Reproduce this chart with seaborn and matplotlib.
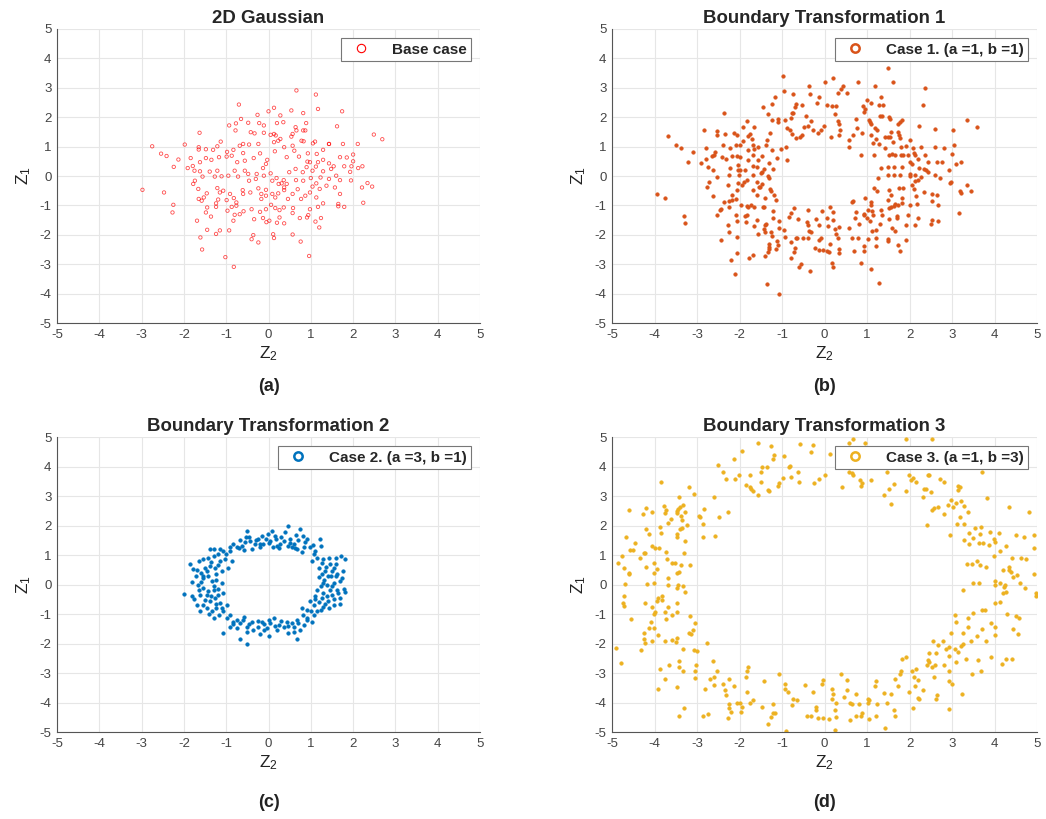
import pandas as pd
import seaborn as sns
import matplotlib.pyplot as plt
from matplotlib.lines import Line2D

# 1. DATA ((Z2, Z1) pairs)
base_pts = [
    (0.66, 2.91), (1.12, 2.77), (-0.70, 2.43), (0.13, 2.32), (0.0, 2.2), (0.54, 2.23), (0.82, 2.14),
    (1.17, 2.28), (1.74, 2.2), (-0.26, 2.08), (0.28, 2.06), (-0.65, 1.94), (1.62, 1.69), (2.49, 1.41),
    (2.69, 1.25), (-1.63, 1.47), (-2.75, 1.01), (-1.98, 1.07), (-2.54, 0.76), (-2.41, 0.68), (-2.13, 0.56),
    (-2.24, 0.31), (-2.98, -0.47), (-2.47, -0.56), (-2.25, -0.98), (-2.27, -1.24), (2.34, -0.24),
    (2.21, -0.39), (2.45, -0.36), (2.24, -0.91), (2.22, 0.33), (2.12, 0.27), (2.11, 1.09), (1.76, 1.09),
    (1.43, 1.09), (-1.69, -1.52), (-1.45, -1.83), (-1.61, -2.09), (-1.57, -2.5), (-1.02, -2.76),
    (-0.82, -3.09), (-1.15, -1.85), (-1.24, -1.97), (-0.93, -1.85), (-0.36, -2.01), (-0.4, -2.15),
    (-0.24, -2.26), (0.11, -1.98), (0.13, -2.11), (0.57, -1.99), (0.76, -2.23), (0.96, -2.72),
    (1.2, -1.75), (1.11, -1.55), (1.24, -1.43), (1.65, -1.03), (1.79, -1.05), (1.65, -0.95),
    (1.95, -0.15), (1.96, 0.33), (1.79, 0.33), (1.93, 0.14), (1.69, 0.64), (1.85, 0.63), (2.0, 0.5),
    (2.0, 0.73),
    (-0.93, 1.72), (-0.77, 1.79), (-0.78, 1.55), (-0.48, 1.81), (-0.22, 1.8), (-0.11, 1.72),
    (-0.42, 1.49), (-0.33, 1.45), (-0.11, 1.47), (0.05, 1.4), (0.13, 1.43), (0.17, 1.38), (0.2, 1.8),
    (0.35, 1.83), (0.64, 1.66), (0.66, 1.55), (0.82, 1.55), (0.87, 1.55), (0.89, 1.8), (0.57, 1.43),
    (0.54, 1.34), (0.78, 1.2), (0.83, 1.18), (1.05, 1.11), (1.1, 1.17), (1.29, 0.89), (1.43, 1.09),
    (-1.13, 1.17), (-1.21, 1.01), (-1.48, 0.91), (-1.65, 0.98), (-1.65, 0.9), (-1.31, 0.89),
    (-1.84, 0.61), (-1.62, 0.47), (-1.48, 0.61), (-1.35, 0.55), (-1.17, 0.64), (-0.99, 0.66),
    (-0.87, 0.69), (-0.98, 0.82), (-0.83, 0.89), (-0.68, 1.03), (-0.6, 1.09), (-0.46, 1.07),
    (-0.24, 1.09), (-0.2, 0.77), (-0.6, 0.78), (-0.74, 0.47), (-0.56, 0.52), (-0.35, 0.61),
    (-0.03, 0.55), (-0.06, 0.41), (0.15, 0.84), (0.13, 1.15), (0.23, 1.2), (0.28, 1.26), (0.37, 0.98),
    (0.43, 0.64), (0.57, 1.03), (0.61, 0.86), (0.72, 0.66), (0.93, 0.77), (0.98, 0.47), (1.17, 0.47),
    (1.14, 0.75), (1.29, 0.55), (1.43, 0.43), (1.54, 0.33), (1.48, 0.24), (0.92, 0.49),
    (-1.91, 0.27), (-1.79, 0.34), (-1.62, 0.16), (-1.75, 0.18), (-1.56, -0.02), (-1.39, 0.15),
    (-1.21, 0.18), (-1.27, -0.02), (-1.11, -0.01), (-0.95, 0.01), (-0.8, 0.18), (-0.72, -0.02),
    (-0.56, 0.18), (-0.48, 0.07), (-0.46, -0.16), (-0.28, 0.07), (-0.3, -0.1), (-0.13, 0.27),
    (-0.11, 0.01), (0.05, 0.09), (0.09, -0.16), (0.19, -0.07), (0.24, -0.27), (0.36, -0.14),
    (0.31, -0.25), (0.43, -0.27), (0.49, 0.13), (0.64, 0.24), (0.65, -0.14), (0.82, -0.16),
    (0.81, 0.13), (1.0, -0.07), (1.04, 0.18), (1.23, -0.05), (1.29, 0.16), (1.13, -0.25),
    (1.43, -0.1), (1.6, 0.01), (1.69, -0.14), (1.12, 0.32), (0.9, 0.3),
    (-1.78, -0.27), (-1.74, -0.16), (-1.66, -0.44), (-1.46, -0.59), (-1.53, -0.73), (-1.58, -0.84),
    (-1.65, -0.78), (-1.21, -0.41), (-1.15, -0.56), (-1.07, -0.5), (-0.91, -0.61), (-1.19, -0.8),
    (-0.99, -0.82), (-0.82, -0.75), (-0.76, -0.9), (-0.61, -0.48), (-0.6, -0.61), (-0.43, -0.56),
    (-0.24, -0.42), (-0.17, -0.61), (-0.17, -0.78), (-0.06, -0.67), (0.09, -0.61), (0.16, -0.73),
    (0.23, -0.59), (0.37, -0.48), (0.37, -0.39), (0.46, -0.78), (0.57, -0.61), (0.69, -0.45),
    (0.77, -0.78), (0.87, -0.67), (0.98, -0.56), (1.04, -0.36), (1.21, -0.44), (1.37, -0.33),
    (1.57, -0.39), (1.69, -0.61), (1.13, -0.73), (-0.06, -0.47),
    (-1.45, -1.07), (-1.48, -1.24), (-1.36, -1.38), (-1.24, -1.05), (-1.24, -0.93), (-0.97, -1.18),
    (-0.87, -1.05), (-0.76, -1.01), (-0.8, -1.32), (-0.68, -1.3), (-0.83, -1.52), (-0.59, -1.2),
    (-0.4, -1.13), (-0.34, -1.47), (-0.2, -1.22), (-0.13, -1.43), (-0.06, -1.13), (0.02, -1.52),
    (0.06, -0.98), (0.16, -1.09), (0.26, -1.16), (0.36, -1.07), (0.26, -1.41), (0.37, -1.61),
    (0.57, -1.26), (0.58, -1.09), (0.74, -1.43), (0.94, -1.33), (0.98, -1.13), (1.17, -1.05),
    (1.29, -0.93), (0.91, -1.41), (-0.05, -1.57), (0.2, -1.59),
]

case1_pts = [
    (-0.98, 3.39), (-0.95, 2.9), (-0.37, 3.07), (0.0, 3.21), (0.19, 3.32), (0.43, 3.05), (0.38, 2.96),
    (0.31, 2.82), (0.54, 2.82), (-0.74, 2.78), (-0.34, 2.78), (-0.14, 2.7), (-0.17, 2.48), (-1.16, 2.67),
    (-1.23, 2.45), (-1.45, 2.34), (-1.32, 2.11), (-0.68, 2.45), (-0.69, 2.34), (-0.54, 2.42),
    (-0.77, 2.13), (-0.73, 2.13), (-0.8, 1.98), (-0.43, 2.05), (-0.31, 1.86), (0.05, 2.42), (0.17, 2.37),
    (0.28, 2.37), (0.24, 2.11), (0.31, 1.88), (0.33, 1.77), (0.36, 1.58), (0.33, 1.38), (0.16, 1.32),
    (-0.01, 1.71), (-0.08, 1.58), (-0.16, 1.45), (-0.28, 1.55), (-0.38, 1.69), (-0.48, 1.68),
    (-0.54, 1.38), (-0.58, 1.32), (-0.66, 1.29), (-0.76, 1.43), (-0.82, 1.55), (-0.89, 1.62),
    (-0.92, 1.91), (-1.09, 1.94), (-1.09, 1.85), (-1.24, 1.92), (-1.28, 1.47), (-1.35, 1.21),
    (-1.37, 1.06), (-0.91, 0.98), (-1.02, 0.92), (-0.89, 0.55), (-1.12, 0.62), (-1.23, 0.87),
    (-2.37, 2.13),
    (-3.68, 1.35), (-3.49, 1.04), (-3.37, 0.96), (-3.1, 0.81), (-3.21, 0.47), (-2.84, 1.55),
    (-2.52, 1.52), (-2.52, 1.41), (-2.35, 1.43), (-2.13, 1.47), (-2.06, 1.4), (-1.91, 1.66),
    (-1.82, 1.88), (-1.66, 1.66), (-1.8, 1.35), (-1.76, 1.43), (-1.7, 1.26), (-1.92, 1.18),
    (-1.98, 1.04), (-2.09, 1.04), (-2.22, 0.96), (-2.39, 1.06), (-2.78, 0.96), (-2.57, 0.81),
    (-2.65, 0.67), (-2.6, 0.7), (-2.8, 0.58), (-2.9, 0.44), (-2.74, 0.32), (-2.62, 0.22),
    (-2.54, -0.04), (-2.72, -0.21), (-2.76, -0.38), (-2.62, -0.69), (-2.42, 0.64), (-2.31, 0.58),
    (-2.17, 0.67), (-2.07, 0.67), (-1.99, 0.66), (-2.04, 0.36), (-2.23, 0.27), (-2.24, 0.02),
    (-2.27, -0.32), (-2.03, 0.19), (-1.98, 0.22), (-2.02, 0.04), (-2.03, -0.23), (-1.95, -0.32),
    (-1.89, -0.21), (-2.07, -0.49), (-2.17, -0.66), (-2.17, -0.8), (-2.24, -0.85), (-2.37, -0.89),
    (-2.43, -1.11), (-2.45, -1.17), (-2.54, -1.31), (-2.25, -1.07), (-2.09, -0.77), (-1.83, -0.15),
    (-1.69, 0.05), (-1.6, -0.21), (-1.68, -0.49), (-1.58, -0.64), (-1.54, -0.38), (-1.51, -0.38),
    (-1.46, -0.26), (-1.46, 0.15), (-1.5, 0.1), (-1.42, 0.24), (-1.32, 0.0), (-1.3, -0.07),
    (-1.22, 0.24), (-1.68, 0.33), (-1.6, 0.32), (-1.68, 0.7), (-1.65, 0.92), (-1.68, 1.04),
    (-1.56, 0.98), (-1.48, 0.67), (-1.57, 0.53), (-1.81, 0.53), (-1.87, 0.19), (-1.28, -0.44),
    (-1.26, -0.52), (-1.2, -0.66), (-1.15, -0.82), (-1.4, -0.75), (-1.45, -1.06), (-1.42, -1.06),
    (-1.74, -0.97), (-1.82, -1.02), (-1.8, -1.06), (-1.66, -1.06), (-1.97, -1.0), (-2.08, -1.32),
    (-2.06, -1.52), (-2.26, -1.68), (-2.24, -1.9), (-1.86, -1.37), (-1.85, -1.57), (-1.83, -1.32),
    (-1.66, -1.71), (-1.58, -1.51), (-1.56, -1.98), (-2.06, -2.07), (-2.43, -2.19), (-2.06, -2.61),
    (-2.21, -2.87), (-1.77, -2.79), (-1.68, -2.67), (-2.11, -3.33), (-1.4, -1.68), (-1.38, -1.62),
    (-1.42, -1.79), (-1.4, -1.9), (-1.26, -1.9), (-1.24, -2.04), (-1.21, -1.19), (-1.21, -1.43),
    (-1.08, -1.54), (-1.06, -1.76), (-0.96, -1.85), (-0.93, -2.07), (-1.11, -2.21), (-1.1, -2.36),
    (-1.3, -2.31), (-1.3, -2.41), (-1.31, -2.49), (-1.32, -2.58), (-1.39, -2.72), (-1.14, -2.49),
    (-1.35, -3.69), (-1.08, -4.03), (-0.8, -2.79), (-0.72, -2.58), (-0.69, -2.45), (-0.8, -2.24),
    (-0.68, -2.11), (-0.64, -2.11), (-0.63, -1.45), (-0.83, -1.4), (-0.78, -1.25), (-0.71, -1.09),
    (-0.4, -1.17), (-0.42, -1.57), (-0.4, -1.68), (-0.36, -1.87), (-0.32, -1.9), (-0.39, -2.1),
    (-0.5, -2.11), (-0.22, -2.44), (-0.12, -2.17), (-0.09, -2.11), (-0.12, -2.53), (-0.04, -2.53),
    (0.06, -2.55), (0.11, -2.58), (-0.2, -1.45), (-0.14, -1.66), (-0.05, -1.2), (0.07, -1.42),
    (0.09, -1.71), (0.21, -1.51), (0.24, -1.79), (0.33, -1.74), (0.27, -1.98), (0.31, -2.11),
    (0.13, -1.06), (0.2, -1.23), (0.13, -2.3), (0.17, -2.95), (0.21, -3.09), (-0.34, -3.24),
    (-0.55, -2.98), (-0.59, -3.1), (0.33, -2.47), (0.35, -2.61),
    (1.5, 3.69), (1.62, 3.19), (0.78, 3.21), (1.18, 3.05), (2.37, 2.98), (2.31, 2.42), (1.34, 2.68),
    (0.99, 2.59), (1.1, 2.47), (0.9, 2.39), (0.96, 2.28), (0.94, 2.17), (1.28, 2.43), (1.38, 2.42),
    (1.31, 2.05), (1.35, 2.03), (1.51, 2.0), (1.55, 1.94), (1.83, 1.91), (1.78, 1.85), (1.73, 1.77),
    (2.22, 1.71), (2.61, 1.6), (3.36, 1.92), (3.58, 1.67), (3.02, 1.55), (0.74, 1.94), (1.04, 1.92),
    (1.06, 1.83), (1.1, 1.77), (1.18, 1.62), (1.24, 1.55), (0.76, 1.62), (0.88, 1.47), (0.66, 1.41),
    (1.09, 1.38), (1.22, 1.26), (1.14, 1.13), (1.28, 1.09), (1.43, 1.33), (1.5, 1.32), (1.55, 1.32),
    (1.72, 1.49), (1.75, 1.38), (1.77, 1.3), (1.56, 1.51), (1.61, 1.17), (1.91, 1.01), (2.0, 1.21),
    (1.81, 0.98), (2.09, 0.96), (2.26, 0.98), (2.61, 1.0), (2.81, 0.96), (3.04, 1.04), (1.43, 0.95),
    (1.51, 0.7), (1.59, 0.75), (1.67, 0.72), (1.79, 0.72), (1.84, 0.72), (1.96, 0.7), (2.11, 0.79),
    (2.13, 0.7), (2.36, 0.73), (2.0, 0.49), (2.06, 0.41), (2.2, 0.58), (2.44, 0.47), (2.65, 0.49),
    (2.77, 0.49), (2.99, 0.74), (3.1, 0.4), (3.22, 0.49), (0.58, 1.22), (0.57, 0.99), (0.87, 0.73),
    (1.17, 0.7), (1.34, 0.28), (1.5, 0.3), (1.63, 0.32), (1.83, 0.29), (1.5, 0.02), (1.63, 0.04),
    (1.77, 0.02), (2.0, 0.07), (2.0, 0.0), (2.14, 0.02), (2.22, 0.27), (2.34, 0.24), (2.39, 0.21),
    (2.44, 0.15), (2.26, -0.02), (2.2, -0.13), (2.13, -0.17), (2.05, -0.32), (2.59, 0.04),
    (2.71, -0.07), (2.93, 0.19), (2.97, -0.19), (2.95, -0.23), (3.18, -0.52), (3.2, -0.59),
    (3.35, -0.32), (3.45, -0.5), (3.17, -1.25), (2.34, -0.55), (2.54, -0.6), (2.64, -0.66),
    (2.67, -0.98), (2.52, -0.86), (2.5, -1.62), (2.54, -1.49), (2.67, -1.53), (2.1, -0.43),
    (2.16, -0.69), (2.18, -0.94), (2.02, -1.0), (1.96, -1.34), (2.2, -1.42), (2.13, -1.68),
    (1.92, -1.68), (1.26, -0.07), (1.17, -0.4), (1.24, -0.51), (1.51, -0.49), (1.75, -0.41),
    (1.84, -0.41), (1.56, -0.66), (1.5, -0.8), (1.65, -0.94), (1.83, -0.74), (1.74, -0.97),
    (1.83, -0.91), (1.63, -1.03), (1.57, -1.06), (1.51, -1.09), (1.71, -1.37), (1.71, -1.43),
    (1.51, -1.45), (1.59, -1.77), (1.65, -1.87), (1.34, -1.14), (1.35, -1.32), (1.31, -1.62),
    (1.2, -1.85), (1.22, -2.11), (1.5, -2.13), (1.5, -2.21), (1.91, -2.17), (1.73, -2.33),
    (1.77, -2.56), (1.1, -0.89), (1.09, -1.0), (0.96, -0.75), (1.02, -1.17), (1.12, -1.19),
    (1.13, -1.34), (1.0, -1.43), (0.94, -1.32), (0.92, -1.28), (0.74, -1.23), (0.72, -1.42),
    (0.65, -0.89), (0.68, -0.86), (0.82, -1.64), (1.06, -1.53), (1.12, -1.88), (1.02, -2.13),
    (1.2, -2.39), (0.92, -2.39), (0.94, -2.56), (0.85, -2.95), (1.1, -3.15), (1.29, -3.64),
    (0.65, -2.11), (0.78, -2.11), (0.69, -2.55), (0.58, -1.77), (-3.95, -0.6), (-3.3, -1.35),
    (-3.28, -1.6), (-3.75, -0.75), (-1.8, 0.9), (-1.3, 0.45),
]

case2_pts = [
    (0.45, 1.97), (0.74, 1.89), (0.08, 1.81), (-0.02, 1.71), (-0.51, 1.81), (-0.67, 1.51), (-0.53, 1.6),
    (-0.43, 1.49), (-0.32, 1.37), (-0.26, 1.54), (-0.16, 1.66), (-0.12, 1.37), (0.04, 1.49), (0.18, 1.54),
    (0.2, 1.31), (0.28, 1.39), (0.4, 1.77), (0.36, 1.49), (0.51, 1.54), (0.61, 1.39), (0.55, 1.26),
    (0.67, 1.2), (0.81, 1.66), (0.87, 1.43), (0.83, 1.28), (0.66, 1.69), (-0.83, 1.37), (-0.75, 1.26),
    (-0.63, 1.31), (-0.58, 1.17), (-0.4, 1.2), (-0.21, 1.26), (0.1, 1.26), (-1.29, 1.2), (-1.07, 1.14),
    (0.99, 1.26), (1.21, 1.54), (1.23, 1.31),
    (1.07, 1.03), (1.03, 0.8), (1.15, 0.91), (1.26, 0.74), (1.19, 0.57), (1.34, 0.46), (1.42, 0.91),
    (1.6, 0.89), (1.72, 0.97), (1.82, 0.86), (1.55, 0.57), (1.62, 0.37), (1.47, 0.29), (1.32, 0.17),
    (1.26, 0.34), (1.74, 0.23), (1.69, 0.11), (1.55, 0.06), (1.38, 0.0), (1.23, -0.06), (1.15, -0.17),
    (1.78, -0.14), (1.82, -0.25), (1.62, -0.17), (1.5, -0.34), (1.38, -0.4), (1.26, -0.46),
    (1.11, -0.4), (1.7, -0.66), (1.55, -0.69), (1.42, -0.8), (1.34, -0.66), (1.23, -0.86),
    (1.07, -0.69), (0.99, -0.57), (0.91, -0.86), (1.08, -1.03), (0.81, -1.03), (0.91, -1.14),
    (0.79, -0.8),
    (0.67, -1.2), (0.55, -1.31), (0.43, -1.26), (0.36, -1.43), (0.24, -1.37), (0.12, -1.14),
    (0.04, -1.31), (-0.04, -1.49), (-0.16, -1.26), (-0.26, -1.43), (-0.36, -1.54), (-0.4, -1.26),
    (-0.5, -1.43), (-0.59, -1.09), (-0.67, -1.31), (-0.75, -1.46), (-0.83, -1.26), (-0.91, -1.03),
    (-0.99, -1.14), (-0.91, -1.43), (-1.07, -1.66), (-0.67, -1.83), (-0.51, -2.0), (-0.2, -1.69),
    (0.0, -1.74), (0.45, -1.66), (0.67, -1.85), (0.74, -1.54), (0.83, -1.37), (1.03, -1.26),
    (-2.0, -0.31), (-1.82, -0.4), (-1.86, 0.69), (-1.78, 0.51), (-1.72, 0.29), (-1.66, 0.0),
    (-1.7, -0.69), (-1.62, -0.91), (-1.54, 0.86), (-1.42, 0.91), (-1.3, 0.97), (-1.19, 1.03),
    (-1.15, 0.8), (-1.03, 0.86), (-1.5, 0.57), (-1.38, 0.63), (-1.26, 0.57), (-1.11, 0.46),
    (-1.54, 0.23), (-1.42, 0.29), (-1.34, 0.11), (-1.23, 0.17), (-1.11, 0.06), (-1.54, -0.11),
    (-1.42, -0.23), (-1.3, -0.17), (-1.19, -0.34), (-1.07, -0.29), (-1.5, -0.51), (-1.38, -0.57),
    (-1.26, -0.46), (-1.15, -0.63), (-0.99, -0.69), (-1.46, -0.8), (-1.34, -0.91), (-1.23, -0.8),
    (-1.07, -0.91), (-1.3, -1.14), (-1.16, -1.03), (-0.87, 0.8), (-0.95, 0.57), (-0.91, 1.26),
    (-1.64, 0.8), (-1.6, 0.4), (-1.62, -0.34), (-1.38, 1.2), (-1.15, 1.2),
    (-0.45, 1.62), (-0.3, 1.5), (-0.05, 1.55), (0.15, 1.65), (0.3, 1.6), (0.5, 1.42), (0.7, 1.5),
    (0.9, 1.55), (1.05, 1.35), (-0.7, 1.25), (-0.9, 1.15), (-0.2, 1.38), (0.0, 1.4), (0.25, 1.25),
    (0.45, 1.3), (0.62, 1.25), (-0.55, 1.45), (1.1, 1.15), (-1.0, 1.05), (0.8, 1.1),
    (1.3, 0.85), (1.45, 0.7), (1.6, 0.7), (1.35, 0.6), (1.5, 0.45), (1.4, 0.3), (1.6, 0.3), (1.3, 0.05),
    (1.5, -0.05), (1.65, -0.3), (1.45, -0.2), (1.3, -0.3), (1.55, -0.5), (1.4, -0.55), (1.2, -0.6),
    (1.3, -0.75), (1.15, -0.9), (1.0, -0.9), (1.1, -0.5), (1.2, 0.25), (1.75, 0.45), (1.7, -0.45),
    (0.9, -1.2), (0.7, -1.3), (0.6, -1.45), (0.45, -1.4), (0.3, -1.25), (0.15, -1.4), (0.0, -1.2),
    (-0.1, -1.35), (-0.25, -1.25), (-0.45, -1.35), (-0.6, -1.2), (-0.75, -1.2), (-0.85, -1.35),
    (-0.5, -1.6), (0.2, -1.55), (0.6, -1.6), (-0.1, -1.55),
    (-1.7, 0.5), (-1.6, 0.1), (-1.65, -0.2), (-1.75, -0.5), (-1.55, -0.7), (-1.45, 0.45), (-1.35, 0.75),
    (-1.25, 0.35), (-1.3, -0.05), (-1.2, -0.15), (-1.35, -0.4), (-1.25, -0.65), (-1.1, -0.8),
    (-1.45, -0.35), (-1.55, 0.3), (-1.2, 0.65), (-1.4, -1.0), (-1.8, 0.1),
]

case3_pts = [
    (-1.57, 4.8), (-1.25, 4.71), (-1.2, 4.4), (-1.22, 4.25), (-0.96, 4.37), (-0.57, 4.77), (-1.94, 4.51),
    (-2.12, 4.25), (-2.5, 4.06), (-2.38, 3.81), (-2.32, 3.57), (-2.1, 3.57), (-2.02, 3.71), (-1.76, 3.72),
    (-1.84, 3.38), (-1.76, 3.3), (-1.72, 3.23), (-1.69, 3.18), (-1.57, 3.04), (-1.49, 3.46), (-1.5, 3.83),
    (-1.46, 4.0), (-1.35, 4.0), (-1.34, 3.21), (-1.31, 3.18), (-1.1, 3.35), (-1.08, 3.44), (-0.98, 3.61),
    (-0.84, 4.0), (-0.82, 4.03), (-0.8, 3.63), (-0.62, 3.83), (-0.61, 3.49), (-3.85, 3.47), (-3.2, 3.32),
    (-3.43, 2.96), (-3.06, 3.06), (-2.59, 2.98), (-2.48, 2.28), (-2.26, 2.46), (-2.95, 2.33),
    (-2.93, 2.28), (-2.84, 2.55), (-2.85, 2.04), (-2.87, 1.6), (-2.57, 1.63), (-4.6, 2.51),
    (-4.27, 2.4), (-4.19, 2.59), (-4.06, 2.47), (-4.2, 1.89), (-4.13, 1.72), (-3.86, 1.96),
    (-3.85, 1.74), (-3.77, 2.67), (-3.72, 2.53), (-3.68, 2.08), (-3.62, 2.21), (-3.76, 2.44),
    (-3.48, 2.5), (-3.48, 2.42), (-3.44, 2.55), (-3.4, 2.64), (-3.32, 2.68), (-3.38, 2.33),
    (-3.35, 2.19), (-3.4, 1.87), (-3.36, 1.91), (-3.24, 2.02), (-3.28, 2.47), (-3.46, 1.72),
    (-3.46, 1.6), (-3.28, 1.48), (-3.3, 1.08), (-4.66, 1.6), (-4.58, 1.17), (-4.5, 1.17),
    (-4.45, 1.42), (-4.76, 0.97), (-4.87, 0.72), (-4.72, 0.55), (-4.61, 0.4), (-4.61, 0.36),
    (-4.35, 0.89), (-4.25, 1.08), (-4.23, 1.08), (-4.07, 1.29), (-3.98, 1.23), (-3.89, 1.25),
    (-3.73, 1.09), (-4.21, 0.6), (-4.01, 0.72), (-4.01, 0.38), (-3.94, 0.52), (-4.01, 0.06),
    (-4.18, 0.02), (-3.71, 0.86), (-3.58, 0.72), (-3.52, 0.72), (-3.68, 0.23), (-3.69, -0.03),
    (-3.47, 0.38), (-3.43, 0.42), (-3.38, 0.65), (-3.17, 0.65), (-4.7, 0.02), (-4.72, -0.39),
    (-4.74, -0.64), (-4.72, -0.73), (-4.56, -1.18), (-4.23, -0.62), (-4.06, -0.75), (-4.02, -1.0),
    (-3.98, -0.92), (-3.95, -0.55), (-3.91, -0.44), (-3.83, -0.39), (-3.76, -0.92), (-3.6, -1.04),
    (-3.48, -0.92), (-3.46, -0.64), (-3.47, -0.13), (-3.44, -0.02), (-3.32, -0.05), (-3.28, -0.24),
    (-3.82, -0.53), (-3.69, -0.75), (-3.72, -1.18), (-4.09, -1.26), (-4.01, -1.49), (-4.13, -1.49),
    (-3.91, -1.72), (-4.24, -1.64), (-4.24, -1.86), (-4.23, -1.98), (-4.32, -2.23), (-4.05, -1.91),
    (-3.76, -1.91), (-3.6, -1.89), (-3.5, -1.95), (-3.48, -1.8), (-3.17, -1.07), (-3.19, -1.64),
    (-3.14, -1.68), (-3.09, -1.55), (-3.05, -1.32), (-3.32, -2.17), (-3.06, -2.23), (-3.01, -2.26),
    (-3.43, -2.59), (-3.43, -2.81), (-3.33, -2.94), (-3.66, -2.73), (-3.76, -3.19), (-3.87, -2.85),
    (-3.91, -3.53), (-3.48, -3.49), (-3.3, -4.17), (-3.43, -4.46), (-3.02, -2.73), (-3.04, -2.94),
    (-3.04, -3.17), (-2.81, -3.53), (-2.85, -4.47), (-2.73, -4.38), (-2.77, -1.98), (-2.63, -2.59),
    (-2.52, -2.93), (-2.61, -3.13), (-2.69, -3.19), (-2.59, -3.41), (-2.38, -3.38), (-2.35, -3.58),
    (-2.31, -3.75), (-2.24, -3.19), (-2.24, -4.06), (-2.24, -4.17), (-2.21, -4.32), (-2.28, -4.51),
    (-2.12, -3.43), (-1.98, -4.01), (-1.93, -4.15), (-1.96, -4.32), (-2.06, -4.03), (-1.85, -3.13),
    (-1.83, -2.94), (-1.8, -2.79), (-1.83, -3.64), (-1.75, -4.03), (-1.69, -3.92), (-1.46, -4.15),
    (-1.42, -3.27), (-1.33, -4.72), (-1.25, -4.49), (-1.22, -4.37), (-1.22, -4.06), (-1.17, -4.35),
    (-1.06, -3.05), (-0.94, -3.38), (-0.92, -3.53), (-0.86, -3.64), (-0.76, -4.09), (-0.74, -3.87),
    (-0.65, -3.91), (-0.9, -4.97), (-0.45, -3.41), (-0.41, -4.47), (-4.9, -2.15), (-4.8, -2.65),
    (-0.27, 4.74), (-0.31, 4.48), (-0.25, 3.44), (-0.13, 3.57), (0.02, 3.72), (0.13, 4.43),
    (0.57, 4.8), (0.67, 4.93), (0.95, 4.8), (1.91, 4.93), (2.54, 4.93), (0.42, 3.3), (0.57, 3.8),
    (0.64, 3.78), (0.68, 3.72), (0.83, 3.53), (0.85, 3.35), (0.89, 3.44), (1.09, 3.55), (1.46, 3.8),
    (1.64, 3.41), (1.52, 3.23), (1.4, 3.04), (1.56, 2.74), (1.91, 3.18), (1.98, 3.7), (2.03, 3.55),
    (2.09, 3.61), (2.15, 3.49), (2.31, 2.98), (2.35, 3.24), (2.39, 3.23), (2.5, 3.12), (2.43, 3.72),
    (2.46, 3.72), (2.72, 3.57), (2.8, 3.49), (2.4, 2.02), (2.53, 2.53), (2.58, 2.59), (2.66, 2.64),
    (2.8, 2.38), (2.9, 2.7), (2.98, 2.87), (3.03, 2.62), (3.09, 2.78), (3.21, 2.84), (3.29, 2.67),
    (3.37, 2.47), (3.15, 3.21), (3.19, 3.3), (3.15, 3.35), (3.82, 2.93), (3.7, 3.83), (4.33, 2.64),
    (4.8, 2.45), (2.95, 1.68), (3.11, 2.04), (3.19, 2.3), (3.28, 2.06), (3.29, 1.51), (3.39, 1.38),
    (3.41, 1.76), (3.5, 1.57), (3.55, 1.91), (3.65, 1.72), (3.69, 1.94), (3.63, 1.4), (3.72, 1.42),
    (3.87, 1.34), (3.9, 1.79), (3.98, 1.53), (4.0, 1.45), (4.1, 1.74), (4.12, 1.15), (3.98, 0.95),
    (4.28, 1.32), (4.5, 1.68), (4.69, 1.6), (4.93, 1.68), (4.94, 1.23), (4.42, 0.89), (4.63, 0.89),
    (4.75, 0.87), (4.94, 0.35), (3.35, 0.69), (3.46, 0.69), (3.59, 0.81), (3.65, 0.66), (3.8, 0.61),
    (4.21, 0.49), (4.33, 0.58), (4.33, 0.49), (4.39, 0.44), (4.43, 0.27), (4.54, 0.32), (4.59, 0.06),
    (4.71, -0.13), (4.97, -0.3), (4.97, -0.38), (3.49, 0.04), (3.63, 0.06), (3.27, -0.19),
    (4.0, 0.13), (4.02, -0.02), (4.14, 0.06), (4.24, -0.02), (4.22, -0.07), (4.2, -0.3), (4.28, -0.27),
    (4.12, -0.58), (4.02, -0.64), (3.06, -1.04), (3.09, -1.26), (3.49, -0.95), (3.7, -0.87),
    (3.78, -0.87), (3.37, -1.15), (3.37, -1.43), (3.27, -1.64), (3.59, -1.74), (3.7, -1.52),
    (3.8, -1.91), (3.91, -1.29), (4.02, -1.43), (4.02, -1.72), (4.3, -1.01), (4.5, -1.07),
    (4.57, -1.15), (4.43, -1.52), (4.55, -1.68), (2.98, -1.64), (2.56, -1.92), (2.68, -2.06),
    (2.78, -1.91), (2.86, -2.17), (2.94, -2.11), (3.07, -2.2), (3.13, -2.28), (3.21, -2.09),
    (3.27, -2.03), (3.09, -2.62), (3.33, -2.54), (3.45, -1.91), (3.46, -3.02), (3.61, -2.57),
    (3.69, -2.93), (3.91, -2.47), (4.18, -2.71), (4.28, -2.51), (4.41, -2.54), (2.46, -2.32),
    (2.63, -2.32), (2.44, -2.57), (2.45, -2.64), (2.4, -2.73), (2.54, -2.81), (2.61, -2.73),
    (2.58, -3.15), (2.82, -2.73), (2.92, -2.43), (2.94, -2.93), (2.92, -3.27), (3.0, -3.38),
    (3.23, -3.7), (2.65, -3.75), (2.62, -3.88), (2.92, -4.21), (1.91, -2.47), (1.82, -2.54),
    (1.8, -2.93), (1.78, -3.05), (1.65, -3.19), (1.72, -3.45), (1.98, -3.64), (2.07, -2.93),
    (2.11, -3.13), (2.15, -2.87), (2.19, -3.22), (2.13, -3.44), (2.31, -3.58), (2.19, -3.83),
    (2.23, -3.87), (2.09, -4.17), (1.2, -3.27), (1.19, -3.45), (1.4, -3.68), (1.56, -3.7),
    (1.64, -4.26), (1.65, -4.46), (1.48, -4.01), (1.43, -4.85), (1.24, -4.04), (1.03, -4.01),
    (1.05, -3.9), (1.02, -3.87), (1.2, -4.47), (1.05, -4.55), (0.89, -4.35), (0.85, -4.47),
    (0.73, -4.47), (0.61, -4.6), (0.8, -4.06), (0.73, -3.7), (0.65, -4.06), (0.6, -4.01),
    (0.52, -3.58), (0.54, -3.24), (0.46, -3.81), (0.39, -3.05), (0.28, -4.01), (0.24, -4.26),
    (0.28, -4.49), (0.18, -3.53), (0.2, -3.72), (0.18, -3.87), (0.24, -4.92), (0.1, -4.55),
    (-0.04, -3.22), (-0.07, -3.36), (-0.26, -3.64), (-0.21, -4.15), (-0.2, -4.26), (-0.31, -4.47),
    (-0.15, -4.51), (-0.04, -4.51),
]

titles = ['2D Gaussian', 'Boundary Transformation 1', 'Boundary Transformation 2', 'Boundary Transformation 3']
legend_labels = ['Base case', 'Case 1. (a =1, b =1)', 'Case 2. (a =3, b =1)', 'Case 3. (a =1, b =3)']
sub_labels = ['(a)', '(b)', '(c)', '(d)']
colors = ['#FF0000', '#D95319', '#0072BD', '#EDB120']
ticks = [-5, -4, -3, -2, -1, 0, 1, 2, 3, 4, 5]

# 2. STYLE
sns.set_theme(style='whitegrid')
plt.rcParams['font.family'] = ['Liberation Sans', 'DejaVu Sans']
plt.rcParams['mathtext.fontset'] = 'custom'
plt.rcParams['mathtext.rm'] = 'Liberation Sans'
plt.rcParams['mathtext.it'] = 'Liberation Sans'
plt.rcParams['axes.unicode_minus'] = False

fig = plt.figure(figsize=(10.46, 8.19), dpi=100)
fig.patch.set_facecolor('white')

# axes rectangles in figure fractions (left, bottom, width, height)
boxes = [
    [0.0545, 0.6056, 0.4044, 0.359],
    [0.5851, 0.6056, 0.4063, 0.359],
    [0.0545, 0.1062, 0.4044, 0.3602],
    [0.5851, 0.1062, 0.4063, 0.3602],
]

all_pts = [base_pts, case1_pts, case2_pts, case3_pts]

# 3. DRAW PANELS
for i, pts in enumerate(all_pts):
    ax = fig.add_axes(boxes[i])
    df = pd.DataFrame(pts, columns=['Z2', 'Z1'])
    if i == 0:
        sns.scatterplot(data=df, x='Z2', y='Z1', ax=ax, s=6, marker='o',
                        facecolors='none', edgecolor=colors[i], linewidth=0.6, alpha=0.7)
    else:
        sns.scatterplot(data=df, x='Z2', y='Z1', ax=ax, s=7, color=colors[i],
                        edgecolor=colors[i], linewidth=0.3)

    ax.set_xlim(-5, 5)
    ax.set_ylim(-5, 5)
    ax.set_xticks(ticks)
    ax.set_yticks(ticks)
    ax.set_facecolor('white')
    ax.grid(True, color='#e6e6e6', linewidth=0.8)
    for side in ['top', 'right']:
        ax.spines[side].set_visible(False)
    for side in ['left', 'bottom']:
        ax.spines[side].set_visible(True)
        ax.spines[side].set_color('#555555')
        ax.spines[side].set_linewidth(0.8)
    ax.tick_params(direction='in', length=3, width=0.7, color='#555555',
                   labelsize=9.5, labelcolor='#444444', pad=4)

    ax.set_title(titles[i], fontsize=13.4, fontweight='bold', pad=4)
    ax.set_xlabel(r'Z$_2$', fontsize=12.5, labelpad=3, color='#222222')
    ax.set_ylabel(r'Z$_1$', fontsize=12.5, labelpad=5, color='#222222')

    handle = Line2D([], [], marker='o', linestyle='none', markersize=6,
                    markerfacecolor='none', markeredgecolor=colors[i],
                    markeredgewidth=0.8 if i == 0 else 1.8)
    leg = ax.legend([handle], [legend_labels[i]], loc='upper right',
                    prop={'weight': 'bold', 'size': 11}, frameon=True, fancybox=False,
                    framealpha=1, edgecolor='#777777', borderaxespad=0.6,
                    handletextpad=1.0, borderpad=0.3)
    leg.get_frame().set_linewidth(0.8)

    # sub-figure caption under each panel
    cx = boxes[i][0] + boxes[i][2] / 2
    cy = 0.528 if i < 2 else 0.020
    fig.text(cx, cy, sub_labels[i], ha='center', va='center', fontsize=13, fontweight='bold', color='#222222')

plt.savefig('out.png', dpi=100, facecolor='white')
